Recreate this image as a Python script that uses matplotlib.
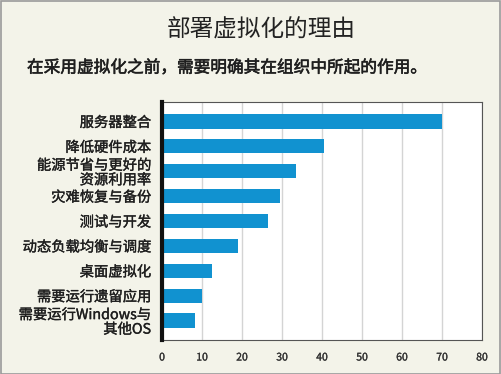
import matplotlib
matplotlib.use("Agg")
import matplotlib.pyplot as plt
import matplotlib.patheffects as pe

plt.rcParams['font.family'] = ['Noto Sans CJK SC', 'DejaVu Sans']

title = "部署虚拟化的理由"
subtitle = "在采用虚拟化之前，需要明确其在组织中所起的作用。"
categories = ["服务器整合", "降低硬件成本", "能源节省与更好的\n资源利用率", "灾难恢复与备份",
              "测试与开发", "动态负载均衡与调度", "桌面虚拟化", "需要运行遗留应用",
              "需要运行Windows与\n其他OS"]
values = [70, 40.5, 33.5, 29.5, 26.5, 19, 12.5, 10, 8.2]
xticks = [0, 10, 20, 30, 40, 50, 60, 70, 80]

bg = "#f3f3e9"
txt = "#1e1e1e"
fig = plt.figure(figsize=(5.01, 3.74), dpi=100, facecolor=bg)

# outer thin border
fig.patches.append(plt.Rectangle((0.002, 0.0), 0.996, 0.997, transform=fig.transFigure,
                                 fill=False, edgecolor="#9a9a9a", linewidth=1.2))

semi = [pe.withStroke(linewidth=0.25, foreground=txt)]

ax = fig.add_axes([0.3234, 0.0909, 0.6387, 0.6364])
ax.set_facecolor("white")
y = list(range(len(categories)))
ax.barh(y, values, height=0.57, color="#1192d0", zorder=3)
ax.set_ylim(len(categories) - 0.22, -0.78)
ax.set_xlim(0, 80)
ax.set_yticks(y)
ax.set_yticklabels(categories, fontsize=10.3, color=txt, linespacing=1.05)
for lab in ax.get_yticklabels():
    lab.set_path_effects(semi)
ax.set_xticks(xticks)
ax.set_xticklabels([str(t) for t in xticks], fontsize=7.5, color="#333333")
for lab in ax.get_xticklabels():
    lab.set_path_effects([pe.withStroke(linewidth=0.2, foreground="#333333")])
ax.tick_params(axis="both", length=0)
ax.tick_params(axis="y", pad=8)
ax.tick_params(axis="x", pad=9)
ax.grid(axis="x", color="#d4d4d4", linewidth=1.0, zorder=0)
for s in ["top", "right", "bottom"]:
    ax.spines[s].set_color("#555555")
    ax.spines[s].set_linewidth(0.8)
ax.spines["left"].set_color("#111111")
ax.spines["left"].set_linewidth(3.0)
ax.spines["left"].set_zorder(5)

fig.text(0.521, 1 - 30 / 374, title, ha="center", va="center", fontsize=17, color="#222222")
fig.text(27 / 501, 1 - 68 / 374, subtitle, ha="left", va="center", fontsize=12,
         color=txt, path_effects=[pe.withStroke(linewidth=0.4, foreground=txt)])

fig.savefig("out.png", dpi=100, facecolor=bg)
